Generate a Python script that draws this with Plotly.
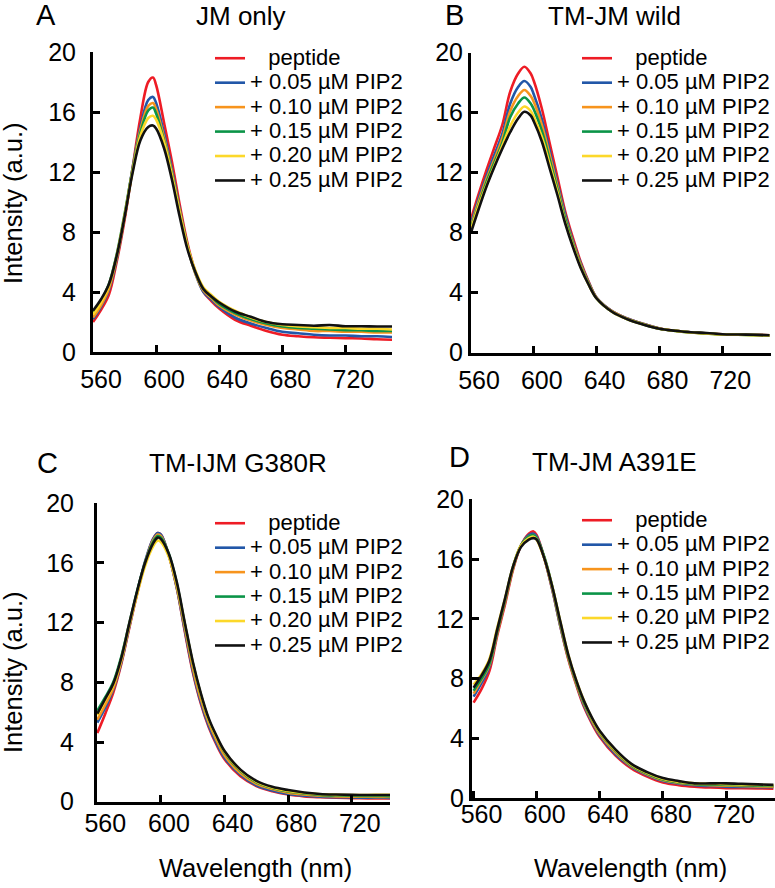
import plotly.graph_objects as go

# ---------------- data ----------------
WL = [560, 565, 570, 575, 580, 585, 590, 595, 598, 600, 605, 610, 615, 620, 625,
      630, 635, 640, 650, 660, 670, 680, 690, 700, 710, 720, 730, 740, 750]
WL_B = [560, 565, 570, 575, 580, 585, 590, 594, 598, 600, 605, 610, 615, 620, 625,
        630, 635, 640, 650, 660, 670, 680, 690, 700, 710, 720, 730, 740, 750]

SERIES = ["peptide", "+ 0.05 µM PIP2", "+ 0.10 µM PIP2", "+ 0.15 µM PIP2",
          "+ 0.20 µM PIP2", "+ 0.25 µM PIP2"]
COLORS = ["#ee1c25", "#2257a8", "#f7941d", "#0b9447", "#fcd82a", "#111111"]

PANEL_TITLES = ["JM only", "TM-JM wild", "TM-IJM G380R", "TM-JM A391E"]
PANEL_LETTERS = ["A", "B", "C", "D"]

X_TICKS = [560, 600, 640, 680, 720]
Y_TICKS = [0, 4, 8, 12, 16, 20]

# Panel A: JM only
A_peptide = [2.0, 2.8, 3.8, 6.0, 8.8, 12.2, 15.6, 18.0, 18.3, 17.8, 15.3, 12.7, 9.8, 7.2, 5.3,
             4.0, 3.4, 2.9, 2.15, 1.75, 1.4, 1.15, 1.05, 0.98, 0.95, 0.92, 0.9, 0.85, 0.82]
A_005 = [2.2, 3.0, 4.1, 6.2, 9.0, 12.2, 15.0, 16.8, 17.0, 16.6, 14.6, 12.2, 9.5, 7.0, 5.2,
         4.0, 3.5, 3.0, 2.3, 1.9, 1.6, 1.35, 1.25, 1.15, 1.1, 1.1, 1.05, 1.05, 1.0]
A_010 = [2.3, 3.1, 4.2, 6.3, 9.0, 12.1, 14.8, 16.4, 16.6, 16.2, 14.3, 12.0, 9.4, 7.0, 5.2,
         4.1, 3.6, 3.1, 2.5, 2.1, 1.8, 1.6, 1.5, 1.4, 1.4, 1.35, 1.35, 1.3, 1.3]
A_015 = [2.6, 3.4, 4.5, 6.5, 9.2, 12.1, 14.6, 16.1, 16.3, 15.9, 14.1, 11.9, 9.3, 7.0, 5.3,
         4.2, 3.7, 3.2, 2.6, 2.2, 1.9, 1.7, 1.6, 1.55, 1.5, 1.45, 1.45, 1.4, 1.4]
A_020 = [2.5, 3.3, 4.4, 6.4, 9.1, 12.0, 14.4, 15.6, 15.75, 15.5, 14.0, 11.8, 9.3, 7.0, 5.4,
         4.3, 3.8, 3.35, 2.75, 2.3, 2.0, 1.8, 1.7, 1.65, 1.6, 1.6, 1.55, 1.55, 1.5]
A_025 = [2.75, 3.5, 4.5, 6.4, 9.0, 11.9, 14.1, 15.0, 15.1, 14.9, 13.6, 11.5, 9.0, 6.8, 5.3,
         4.2, 3.7, 3.3, 2.7, 2.35, 2.0, 1.85, 1.8, 1.75, 1.8, 1.72, 1.72, 1.7, 1.7]

# Panel B: TM-JM wild
B_peptide = [8.9, 10.6, 12.2, 13.7, 15.2, 17.4, 18.6, 19.05, 18.6, 18.1, 16.3, 14.0, 11.7, 9.4, 7.6,
             6.0, 4.7, 3.65, 2.75, 2.25, 1.9, 1.6, 1.45, 1.35, 1.28, 1.22, 1.2, 1.18, 1.15]
B_005 = [8.6, 10.3, 11.8, 13.2, 14.6, 16.6, 17.7, 18.1, 17.7, 17.2, 15.6, 13.5, 11.3, 9.2, 7.4,
         5.9, 4.65, 3.65, 2.75, 2.25, 1.9, 1.6, 1.45, 1.35, 1.28, 1.22, 1.2, 1.18, 1.15]
B_010 = [8.4, 10.1, 11.6, 12.9, 14.3, 16.1, 17.1, 17.5, 17.1, 16.7, 15.2, 13.2, 11.1, 9.0, 7.3,
         5.8, 4.6, 3.62, 2.72, 2.22, 1.88, 1.6, 1.45, 1.33, 1.27, 1.22, 1.2, 1.17, 1.15]
B_015 = [8.3, 9.9, 11.4, 12.7, 14.0, 15.7, 16.6, 17.0, 16.6, 16.2, 14.8, 12.9, 10.9, 8.9, 7.2,
         5.7, 4.55, 3.6, 2.7, 2.2, 1.87, 1.58, 1.44, 1.33, 1.27, 1.2, 1.18, 1.16, 1.14]
B_020 = [8.2, 9.8, 11.2, 12.5, 13.8, 15.1, 16.0, 16.4, 16.1, 15.7, 14.4, 12.6, 10.7, 8.7, 7.1,
         5.65, 4.5, 3.6, 2.7, 2.2, 1.86, 1.58, 1.44, 1.33, 1.27, 1.2, 1.18, 1.16, 1.14]
B_025 = [8.0, 9.6, 11.1, 12.4, 13.6, 14.7, 15.6, 16.05, 15.8, 15.4, 14.1, 12.3, 10.5, 8.6, 7.0,
         5.6, 4.5, 3.6, 2.7, 2.2, 1.85, 1.58, 1.45, 1.35, 1.3, 1.22, 1.2, 1.18, 1.15]

# Panel C: TM-IJM G380R
C_peptide = [4.6, 5.9, 7.3, 9.2, 11.6, 13.9, 16.0, 17.6, 18.0, 17.9, 16.5, 14.3, 11.4, 8.7, 6.6,
             5.0, 3.8, 2.85, 1.7, 1.05, 0.7, 0.48, 0.36, 0.3, 0.26, 0.24, 0.22, 0.22, 0.2]
C_005 = [5.3, 6.3, 7.5, 9.3, 11.7, 14.0, 16.1, 17.6, 18.0, 17.9, 16.5, 14.3, 11.5, 8.8, 6.7,
         5.1, 3.9, 2.95, 1.8, 1.1, 0.75, 0.52, 0.4, 0.33, 0.3, 0.28, 0.27, 0.26, 0.25]
C_010 = [5.5, 6.5, 7.6, 9.4, 11.8, 14.0, 16.0, 17.5, 17.9, 17.8, 16.5, 14.4, 11.7, 9.0, 6.9,
         5.3, 4.1, 3.1, 1.9, 1.2, 0.85, 0.6, 0.48, 0.4, 0.36, 0.34, 0.33, 0.32, 0.32]
C_015 = [6.1, 7.0, 8.0, 9.7, 11.9, 14.1, 16.0, 17.4, 17.8, 17.7, 16.6, 14.6, 11.9, 9.3, 7.2,
         5.5, 4.3, 3.3, 2.05, 1.3, 0.92, 0.68, 0.55, 0.46, 0.42, 0.4, 0.38, 0.38, 0.37]
C_020 = [5.8, 6.8, 7.8, 9.5, 11.8, 13.9, 15.8, 17.1, 17.5, 17.4, 16.4, 14.5, 11.9, 9.3, 7.2,
         5.5, 4.3, 3.35, 2.1, 1.35, 0.95, 0.72, 0.58, 0.5, 0.46, 0.45, 0.45, 0.46, 0.45]
C_025 = [5.9, 6.9, 7.9, 9.6, 11.9, 14.1, 16.0, 17.3, 17.7, 17.6, 16.6, 14.7, 12.0, 9.4, 7.3,
         5.6, 4.4, 3.4, 2.15, 1.4, 1.0, 0.78, 0.62, 0.52, 0.48, 0.46, 0.45, 0.45, 0.44]

# Panel D: TM-JM A391E
D_peptide = [6.4, 7.3, 8.5, 10.9, 13.0, 15.3, 16.9, 17.7, 17.85, 17.6, 16.0, 13.9, 11.5, 9.3, 7.6,
             6.1, 5.0, 4.1, 2.85, 2.0, 1.45, 1.05, 0.88, 0.78, 0.72, 0.68, 0.67, 0.66, 0.65]
D_005 = [6.8, 7.7, 8.8, 11.1, 13.2, 15.4, 16.9, 17.6, 17.7, 17.5, 16.0, 13.9, 11.5, 9.4, 7.7,
         6.2, 5.1, 4.2, 2.95, 2.1, 1.55, 1.15, 0.98, 0.88, 0.82, 0.78, 0.76, 0.75, 0.74]
D_010 = [7.0, 7.9, 8.9, 11.1, 13.2, 15.4, 16.9, 17.5, 17.6, 17.4, 16.0, 14.0, 11.6, 9.4, 7.7,
         6.3, 5.2, 4.3, 3.05, 2.15, 1.6, 1.2, 1.02, 0.92, 0.88, 0.85, 0.83, 0.8, 0.78]
D_015 = [7.2, 8.0, 9.0, 11.2, 13.3, 15.5, 16.9, 17.5, 17.6, 17.4, 16.1, 14.1, 11.7, 9.5, 7.8,
         6.4, 5.3, 4.4, 3.15, 2.2, 1.65, 1.25, 1.06, 0.95, 0.92, 0.9, 0.88, 0.85, 0.82]
D_020 = [7.6, 8.3, 9.3, 11.4, 13.4, 15.5, 16.9, 17.4, 17.5, 17.3, 16.0, 14.1, 11.8, 9.6, 7.9,
         6.5, 5.35, 4.45, 3.2, 2.25, 1.7, 1.3, 1.1, 1.0, 0.97, 0.95, 0.93, 0.9, 0.87]
D_025 = [7.4, 8.2, 9.2, 11.3, 13.4, 15.5, 16.8, 17.3, 17.4, 17.3, 16.0, 14.1, 11.8, 9.6, 7.9,
         6.5, 5.4, 4.5, 3.25, 2.3, 1.75, 1.35, 1.15, 1.0, 1.0, 1.0, 0.97, 0.93, 0.9]

PANELS = [
    (WL, [A_peptide, A_005, A_010, A_015, A_020, A_025]),
    (WL_B, [B_peptide, B_005, B_010, B_015, B_020, B_025]),
    (WL, [C_peptide, C_005, C_010, C_015, C_020, C_025]),
    (WL, [D_peptide, D_005, D_010, D_015, D_020, D_025]),
]

# ---------------- layout geometry ----------------
W, H = 775, 888
FONT = "Arial, Liberation Sans, Helvetica, sans-serif"

X_DOMAINS = [[93 / W, 392 / W], [471 / W, 771 / W], [97 / W, 390 / W], [472 / W, 1.0]]
Y_DOMAINS = [[1 - 352 / H, 1 - 52 / H], [1 - 352.5 / H, 1 - 52.5 / H],
             [1 - 801.7 / H, 1 - 503.3 / H], [1 - 798.3 / H, 1 - 499.3 / H]]
X_RANGES = [[560, 749.5], [560, 751], [559.8, 744], [559, 751]]
Y_LABEL_STANDOFF = [9, 0, 15, 0]
X_LABEL_STANDOFF = [3, 3, -3, -8]

LEGEND_POS = [(210 / W, 1 - 41 / H), (577 / W, 1 - 41 / H),
              (210 / W, 1 - 506 / H), (577 / W, 1 - 503 / H)]

fig = go.Figure()

for p, (wl, series) in enumerate(PANELS):
    sfx = "" if p == 0 else str(p + 1)
    leg = "legend" if p == 0 else f"legend{p + 1}"
    for s, vals in enumerate(series):
        name = SERIES[s]
        if s == 0:
            name = "\u00a0\u00a0\u00a0" + name
        fig.add_trace(go.Scatter(
            x=wl, y=vals, mode="lines",
            line=dict(color=COLORS[s], width=2.6, shape="spline", smoothing=1.0),
            name=f'<span style="font-size:22px">{name}</span>',
            xaxis="x" + sfx, yaxis="y" + sfx, legend=leg,
        ))

layout = dict(
    width=W, height=H,
    margin=dict(l=0, r=0, t=0, b=0, autoexpand=False),
    paper_bgcolor="white", plot_bgcolor="white",
    font=dict(family=FONT, color="black", size=22),
    showlegend=True,
)

for p in range(4):
    sfx = "" if p == 0 else str(p + 1)
    layout["xaxis" + sfx] = dict(
        domain=X_DOMAINS[p], range=X_RANGES[p], anchor="y" + sfx,
        tickvals=X_TICKS, ticks="inside", ticklen=7, tickwidth=2.5, tickcolor="black",
        showline=True, linewidth=3, linecolor="black", showgrid=False, zeroline=False,
        tickfont=dict(family=FONT, size=25, color="black"),
        ticklabelshift=8, ticklabelstandoff=X_LABEL_STANDOFF[p], automargin=False,
    )
    layout["yaxis" + sfx] = dict(
        domain=Y_DOMAINS[p], range=[0, 20], anchor="x" + sfx,
        tickvals=Y_TICKS, ticks="inside", ticklen=7, tickwidth=2.5, tickcolor="black",
        showline=True, linewidth=3, linecolor="black", showgrid=False, zeroline=False,
        tickfont=dict(family=FONT, size=25, color="black"),
        ticklabelstandoff=Y_LABEL_STANDOFF[p], automargin=False,
    )
    leg = "legend" if p == 0 else f"legend{p + 1}"
    layout[leg] = dict(
        x=LEGEND_POS[p][0], y=LEGEND_POS[p][1], xanchor="left", yanchor="top",
        bgcolor="rgba(0,0,0,0)", borderwidth=0,
        font=dict(family=FONT, size=16.5, color="black"),
        itemwidth=30, tracegroupgap=0,
    )

annotations = []
LETTER_POS = [(46, 15), (455, 15), (47, 463), (460, 457)]
TITLE_POS = [(241, 16), (614, 16), (238, 463), (614, 462)]
for p in range(4):
    lx, ly = LETTER_POS[p]
    annotations.append(dict(text=PANEL_LETTERS[p], x=lx / W, y=1 - ly / H, xref="paper", yref="paper",
                            xanchor="center", yanchor="middle", showarrow=False,
                            font=dict(family=FONT, size=29, color="black")))
    tx, ty = TITLE_POS[p]
    annotations.append(dict(text=PANEL_TITLES[p], x=tx / W, y=1 - ty / H, xref="paper", yref="paper",
                            xanchor="center", yanchor="middle", showarrow=False,
                            font=dict(family=FONT, size=26, color="black")))

for (cx, cy) in [(13, 203), (13, 672)]:
    annotations.append(dict(text="Intensity (a.u.)", x=cx / W, y=1 - cy / H, xref="paper", yref="paper",
                            xanchor="center", yanchor="middle", showarrow=False, textangle=-90,
                            font=dict(family=FONT, size=25.5, color="black")))
for (cx, cy) in [(255, 868), (630, 868)]:
    annotations.append(dict(text="Wavelength (nm)", x=cx / W, y=1 - cy / H, xref="paper", yref="paper",
                            xanchor="center", yanchor="middle", showarrow=False,
                            font=dict(family=FONT, size=25.5, color="black")))

layout["annotations"] = annotations
fig.update_layout(**layout)

fig.write_html("out.html", config={"displayModeBar": False},
               post_script="document.body.style.margin='0px';")
